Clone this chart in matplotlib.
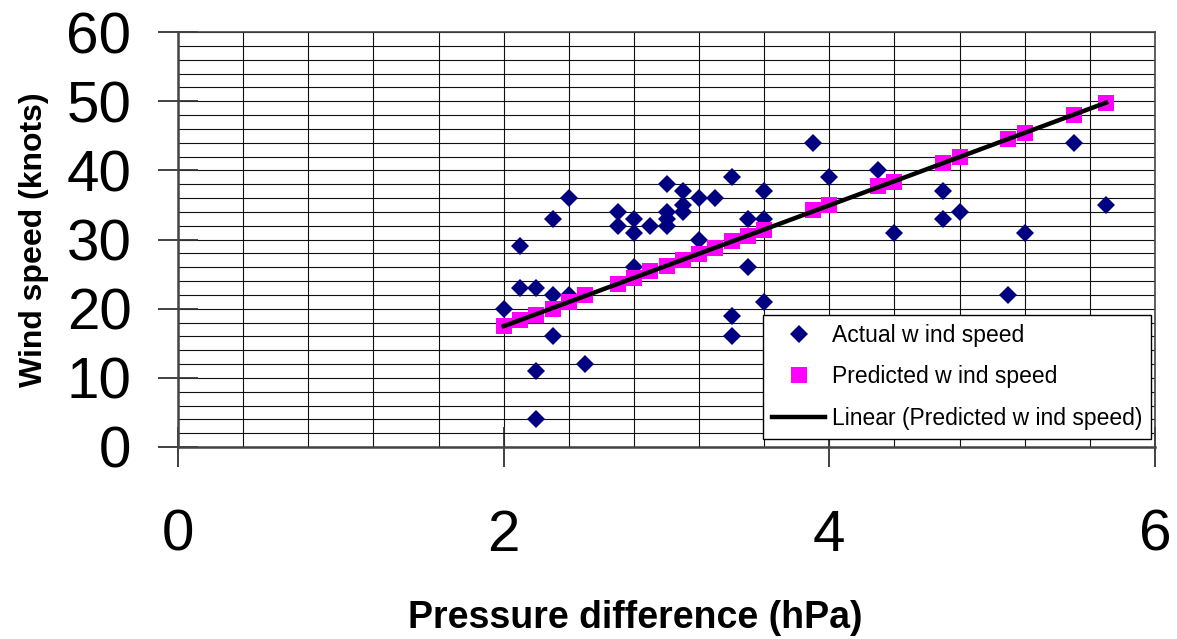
import matplotlib
matplotlib.use('Agg')
import matplotlib.pyplot as plt
import numpy as np
from matplotlib.ticker import MultipleLocator

plt.rcParams['font.family'] = ['Liberation Sans', 'DejaVu Sans']

# observed wind speed vs pressure difference
actual_x = [2.0, 2.1, 2.1, 2.2, 2.2, 2.2, 2.3, 2.3, 2.3, 2.4, 2.4, 2.5,
            2.7, 2.7, 2.8, 2.8, 2.8, 2.9, 3.0, 3.0, 3.0, 3.0, 3.1, 3.1, 3.1,
            3.2, 3.2, 3.3, 3.4, 3.4, 3.4, 3.5, 3.5, 3.6, 3.6, 3.6,
            3.9, 4.0, 4.3, 4.4, 4.7, 4.7, 4.8, 5.1, 5.2, 5.5, 5.7]
actual_y = [20, 29, 23, 23, 11, 4, 33, 22, 16, 36, 22, 12,
            34, 32, 33, 31, 26, 32, 38, 34, 33, 32, 37, 35, 34,
            36, 30, 36, 39, 19, 16, 33, 26, 37, 33, 21,
            44, 39, 40, 31, 37, 33, 34, 22, 31, 44, 35]

# model prediction
pred_x = [2.0, 2.1, 2.2, 2.3, 2.4, 2.5, 2.7, 2.8, 2.9, 3.0, 3.1, 3.2, 3.3,
          3.4, 3.5, 3.6, 3.9, 4.0, 4.3, 4.4, 4.7, 4.8, 5.1, 5.2, 5.5, 5.7]
pred_y = [17.5, 18.3, 19.1, 20.0, 21.0, 22.0, 23.6, 24.5, 25.4, 26.1, 27.0,
          27.9, 28.8, 29.8, 30.5, 31.4, 34.2, 35.0, 37.7, 38.3, 41.0, 42.0,
          44.5, 45.4, 48.0, 49.8]

x_ticks = [0, 2, 4, 6]
y_ticks = [0, 10, 20, 30, 40, 50, 60]

W, H = 1177, 639
fig = plt.figure(figsize=(W / 100, H / 100), dpi=100)
ax = fig.add_axes([178 / W, 1 - 447 / H, 977 / W, 415 / H])

ax.plot(actual_x, actual_y, 'D', color='#000080', ms=9.5, mew=0,
        label='Actual w ind speed', zorder=3)
ax.plot(pred_x, pred_y, 's', color='#FF00FF', ms=11, mew=0,
        label='Predicted w ind speed', zorder=4)

# excel-style linear trendline through the predicted points
k, b = np.polyfit(pred_x, pred_y, 1)
tx = np.array([min(pred_x), max(pred_x)])
ax.plot(tx, k * tx + b, '-', color='black', lw=3.2,
        label='Linear (Predicted w ind speed)', zorder=5)

ax.set_xlim(0, 6)
ax.set_ylim(0, 60)
ax.set_xticks(x_ticks)
ax.set_yticks(y_ticks)
ax.xaxis.set_minor_locator(MultipleLocator(0.4))
ax.yaxis.set_minor_locator(MultipleLocator(2))
ax.set_axisbelow(True)
ax.grid(which='both', color='#111111', lw=0.8)

ax.tick_params(which='major', direction='inout', length=29, width=1.3,
               color='#333333', labelsize=42)
ax.tick_params(axis='x', which='major', pad=30)
ax.tick_params(axis='y', which='major', pad=19)
ax.tick_params(which='minor', length=0)
for s in ax.spines.values():
    s.set_color('#444444')
    s.set_linewidth(1.2)
ax.spines['left'].set_linewidth(1.8)
ax.spines['bottom'].set_linewidth(1.8)

ax.set_xlabel('Pressure difference (hPa)', fontsize=27, fontweight='bold')
ax.set_ylabel('Wind speed (knots)', fontsize=23, fontweight='bold')
ax.xaxis.set_label_coords((635 - 178) / 977, (447 - 618) / 415)
ax.yaxis.set_label_coords((34 - 178) / 977, 0.5)
ax.xaxis.label.set_va('center')
ax.yaxis.label.set_va('center')

leg = ax.legend(loc='lower left', bbox_to_anchor=(763 / W, 1 - 439 / H),
                bbox_transform=fig.transFigure, fontsize=16.5, numpoints=1,
                handlelength=2.3, handletextpad=0.3, labelspacing=0.8,
                borderpad=0.4, borderaxespad=0, fancybox=False,
                framealpha=1, edgecolor='black')
leg.get_frame().set_linewidth(1.0)

plt.savefig('out.png', dpi=100)
plt.close()
